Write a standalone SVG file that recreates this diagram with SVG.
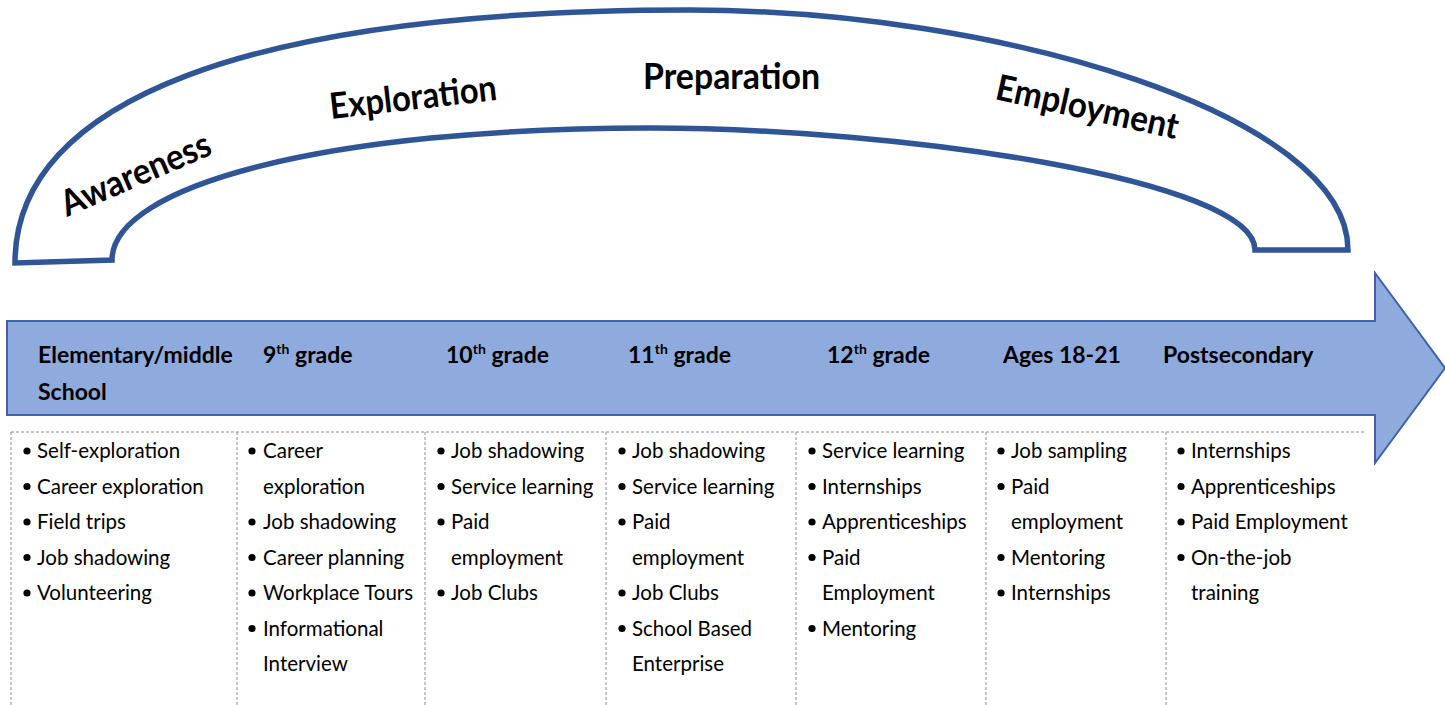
<svg xmlns="http://www.w3.org/2000/svg" width="1445" height="705" viewBox="0 0 1445 705">
<style>
.arc{fill:#fff;stroke:#2F5597;stroke-width:5.5}
.arrow{fill:#8FAADC;stroke:#3D64A8;stroke-width:2}
.stage{font-family:Lato,"Liberation Sans",sans-serif;font-weight:bold;font-size:36px;fill:#000}
.hdr{font-family:Lato,"Liberation Sans",sans-serif;font-weight:bold;font-size:23px;fill:#000}
.sup{font-size:14px}
.item{font-family:Lato,"Liberation Sans",sans-serif;font-size:20.5px;fill:#000}
.grid{stroke:#8F8F8F;stroke-width:1;stroke-dasharray:3 2;fill:none}
.dot{fill:#000}
</style>
<defs>
<circle id="b" r="3.6"/>
</defs>

<g id="stages-arc">
<path class="arc" d="M15,263 C15,100 250,10 690,10 C1000,10 1348,115 1348,250 L1255,250 C1255,180 900,128 650,128 C330,128 112,185 112,260 Z"/>
<text class="stage" x="67" y="217" transform="rotate(-23.3 67 217)" textLength="160" lengthAdjust="spacingAndGlyphs">Awareness</text>
<text class="stage" x="331" y="119" transform="rotate(-6.5 331 119)" textLength="168" lengthAdjust="spacingAndGlyphs">Exploration</text>
<text class="stage" x="643" y="89" textLength="177" lengthAdjust="spacingAndGlyphs">Preparation</text>
<text class="stage" x="994" y="99" transform="rotate(12.5 994 99)" textLength="186" lengthAdjust="spacingAndGlyphs">Employment</text>
</g>

<g id="timeline-arrow">
<path class="arrow" d="M7,321 L1375,321 L1375,273 L1445,368 L1375,463 L1375,415 L7,415 Z"/>
</g>

<g id="connectors">
<path class="grid" d="M11,432 H1364 M11,432 V705 M237,432 V705 M425,432 V705 M606,432 V705 M796,432 V705 M986,432 V705 M1166,432 V705"/>
</g>

<g id="col-elementary">
<text class="hdr" x="38" y="363">Elementary/middle</text>
<text class="hdr" x="38" y="400">School</text>
<use href="#b" class="dot" x="27" y="451"/><text class="item" x="37" y="458">Self-exploration</text>
<use href="#b" class="dot" x="27" y="486.5"/><text class="item" x="37" y="493.5">Career exploration</text>
<use href="#b" class="dot" x="27" y="522"/><text class="item" x="37" y="529">Field trips</text>
<use href="#b" class="dot" x="27" y="557.5"/><text class="item" x="37" y="564.5">Job shadowing</text>
<use href="#b" class="dot" x="27" y="593"/><text class="item" x="37" y="600">Volunteering</text>
</g>

<g id="col-9th">
<text class="hdr" x="263" y="363">9<tspan class="sup" dy="-9">th</tspan><tspan dy="9"> grade</tspan></text>
<use href="#b" class="dot" x="252" y="451"/><text class="item" x="263" y="458">Career</text>
<text class="item" x="263" y="493.5">exploration</text>
<use href="#b" class="dot" x="252" y="522"/><text class="item" x="263" y="529">Job shadowing</text>
<use href="#b" class="dot" x="252" y="557.5"/><text class="item" x="263" y="564.5">Career planning</text>
<use href="#b" class="dot" x="252" y="593"/><text class="item" x="263" y="600">Workplace Tours</text>
<use href="#b" class="dot" x="252" y="628.5"/><text class="item" x="263" y="635.5">Informational</text>
<text class="item" x="263" y="671">Interview</text>
</g>

<g id="col-10th">
<text class="hdr" x="446" y="363">10<tspan class="sup" dy="-9">th</tspan><tspan dy="9"> grade</tspan></text>
<use href="#b" class="dot" x="441" y="451"/><text class="item" x="451" y="458">Job shadowing</text>
<use href="#b" class="dot" x="441" y="486.5"/><text class="item" x="451" y="493.5">Service learning</text>
<use href="#b" class="dot" x="441" y="522"/><text class="item" x="451" y="529">Paid</text>
<text class="item" x="451" y="564.5">employment</text>
<use href="#b" class="dot" x="441" y="593"/><text class="item" x="451" y="600">Job Clubs</text>
</g>

<g id="col-11th">
<text class="hdr" x="628" y="363">11<tspan class="sup" dy="-9">th</tspan><tspan dy="9"> grade</tspan></text>
<use href="#b" class="dot" x="622" y="451"/><text class="item" x="632" y="458">Job shadowing</text>
<use href="#b" class="dot" x="622" y="486.5"/><text class="item" x="632" y="493.5">Service learning</text>
<use href="#b" class="dot" x="622" y="522"/><text class="item" x="632" y="529">Paid</text>
<text class="item" x="632" y="564.5">employment</text>
<use href="#b" class="dot" x="622" y="593"/><text class="item" x="632" y="600">Job Clubs</text>
<use href="#b" class="dot" x="622" y="628.5"/><text class="item" x="632" y="635.5">School Based</text>
<text class="item" x="632" y="671">Enterprise</text>
</g>

<g id="col-12th">
<text class="hdr" x="827" y="363">12<tspan class="sup" dy="-9">th</tspan><tspan dy="9"> grade</tspan></text>
<use href="#b" class="dot" x="812" y="451"/><text class="item" x="822" y="458">Service learning</text>
<use href="#b" class="dot" x="812" y="486.5"/><text class="item" x="822" y="493.5">Internships</text>
<use href="#b" class="dot" x="812" y="522"/><text class="item" x="822" y="529">Apprenticeships</text>
<use href="#b" class="dot" x="812" y="557.5"/><text class="item" x="822" y="564.5">Paid</text>
<text class="item" x="822" y="600">Employment</text>
<use href="#b" class="dot" x="812" y="628.5"/><text class="item" x="822" y="635.5">Mentoring</text>
</g>

<g id="col-ages">
<text class="hdr" x="1003" y="363">Ages 18-21</text>
<use href="#b" class="dot" x="1001" y="451"/><text class="item" x="1011" y="458">Job sampling</text>
<use href="#b" class="dot" x="1001" y="486.5"/><text class="item" x="1011" y="493.5">Paid</text>
<text class="item" x="1011" y="529">employment</text>
<use href="#b" class="dot" x="1001" y="557.5"/><text class="item" x="1011" y="564.5">Mentoring</text>
<use href="#b" class="dot" x="1001" y="593"/><text class="item" x="1011" y="600">Internships</text>
</g>

<g id="col-postsecondary">
<text class="hdr" x="1163" y="363">Postsecondary</text>
<use href="#b" class="dot" x="1181" y="451"/><text class="item" x="1191" y="458">Internships</text>
<use href="#b" class="dot" x="1181" y="486.5"/><text class="item" x="1191" y="493.5">Apprenticeships</text>
<use href="#b" class="dot" x="1181" y="522"/><text class="item" x="1191" y="529">Paid Employment</text>
<use href="#b" class="dot" x="1181" y="557.5"/><text class="item" x="1191" y="564.5">On-the-job</text>
<text class="item" x="1191" y="600">training</text>
</g>
</svg>
